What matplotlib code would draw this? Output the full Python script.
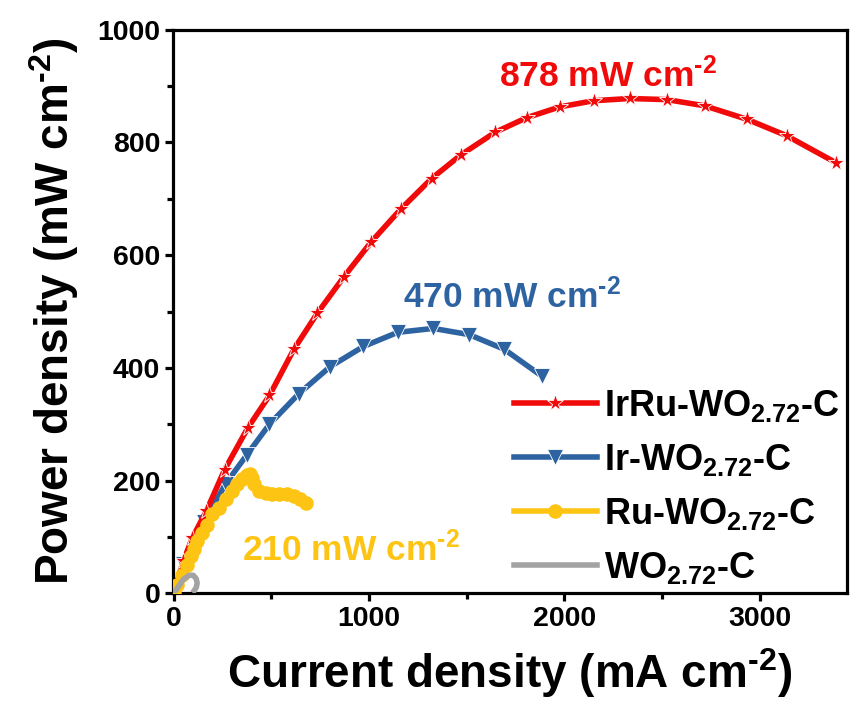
import numpy as np
import matplotlib
matplotlib.use('Agg')
import matplotlib.pyplot as plt
from matplotlib.ticker import MultipleLocator

# ── Data (I in mA cm-2, P in mW cm-2) ─────────────────────────────────────────
irru_i = [0, 50, 96, 167, 260, 380, 490, 615, 735, 872, 1012, 1163, 1320, 1470,
          1645, 1807, 1975, 2149, 2333, 2525, 2718, 2935, 3137, 3390]
irru_p = [0, 58, 99, 146, 219, 294, 351, 433, 497, 562, 624, 682, 736, 778,
          818, 844, 863, 874, 878, 876, 865, 841, 812, 764]

ir_i = [0, 45, 103, 155, 265, 375, 490, 640, 800, 971, 1146, 1328, 1513, 1692, 1886]
ir_p = [0, 52, 90, 126, 194, 246, 300, 354, 402, 438, 463, 470, 459, 433, 385]

ru_i = [0, 17, 43, 69, 86, 103, 120, 146, 171, 197, 231, 265, 299, 325, 351,
        373, 390, 400, 410, 436, 470, 505, 538, 582, 615, 645, 679]
ru_p = [0, 15, 33, 51, 66, 78, 93, 107, 122, 140, 152, 167, 182, 194, 203,
        210, 212, 204, 194, 182, 178, 177, 177, 176, 172, 167, 161]

wo_i = [0, 20, 50, 80, 100, 115, 120, 115, 105]
wo_p = [0, 10, 25, 32, 32, 26, 18, 10, 5]

labels = [r'IrRu-WO$_{2.72}$-C', r'Ir-WO$_{2.72}$-C',
          r'Ru-WO$_{2.72}$-C', r'WO$_{2.72}$-C']
SUP = r'$^{\text{-2}}$'
peak_notes = ['878 mW cm' + SUP, '470 mW cm' + SUP, '210 mW cm' + SUP]

RED, BLUE, YEL, GRAY = '#f00a0a', '#2e63a2', '#fdc414', '#a3a3a3'

# ── Fonts ─────────────────────────────────────────────────────────────────────
plt.rcParams['font.family'] = ['Liberation Sans', 'DejaVu Sans']
plt.rcParams['font.weight'] = 'bold'
plt.rcParams['axes.labelweight'] = 'bold'
plt.rcParams['mathtext.fontset'] = 'custom'
plt.rcParams['mathtext.rm'] = 'Liberation Sans:bold'
plt.rcParams['mathtext.bf'] = 'Liberation Sans:bold'
plt.rcParams['mathtext.it'] = 'Liberation Sans:bold'
plt.rcParams['mathtext.default'] = 'rm'

fig = plt.figure(figsize=(8.51, 7.08), dpi=100, facecolor='white')
ax = fig.add_axes([0.203, 0.162, 0.792, 0.796])

LW = 4.0
ax.plot(irru_i, irru_p, color=RED, lw=LW, marker='*', ms=12.5,
        mec='white', mew=0.6, label=labels[0], zorder=4)
ax.plot(ir_i, ir_p, color=BLUE, lw=LW, marker='v', ms=11,
        mec='white', mew=0.6, label=labels[1], zorder=3)
ax.plot(ru_i, ru_p, color=YEL, lw=LW, marker='o', ms=10.5,
        mec=YEL, mew=0, label=labels[2], zorder=5)
ax.plot(wo_i, wo_p, color=GRAY, lw=LW, label=labels[3], zorder=6)

# ── Peak annotations ──────────────────────────────────────────────────────────
ax.text(2225, 918, peak_notes[0], color=RED, fontsize=25.5, ha='center', va='center')
ax.text(1734, 527, peak_notes[1], color=BLUE, fontsize=25.5, ha='center', va='center')
ax.text(905, 78, peak_notes[2], color=YEL, fontsize=25.5, ha='center', va='center')

# ── Axes ──────────────────────────────────────────────────────────────────────
ax.set_xlim(-5, 3445)
ax.set_ylim(0, 1000)
ax.xaxis.set_major_locator(MultipleLocator(1000))
ax.xaxis.set_minor_locator(MultipleLocator(500))
ax.yaxis.set_major_locator(MultipleLocator(200))
ax.yaxis.set_minor_locator(MultipleLocator(100))
for s in ax.spines.values():
    s.set_linewidth(2.3)
ax.tick_params(which='major', direction='out', length=6, width=2.3,
               labelsize=20.5, pad=3)
ax.tick_params(which='minor', direction='out', length=4, width=2.3)

ax.set_xlabel('Current density (mA cm' + SUP + ')', fontsize=33, labelpad=10)
ax.set_ylabel('Power density (mW cm' + SUP + ')', fontsize=33, labelpad=12)

ax.legend(loc='lower right', frameon=False, fontsize=26,
          handlelength=2.3, handletextpad=0.2, labelspacing=0.5,
          borderaxespad=0.05, borderpad=0.15)

plt.savefig('out.png', dpi=100, facecolor='white')
